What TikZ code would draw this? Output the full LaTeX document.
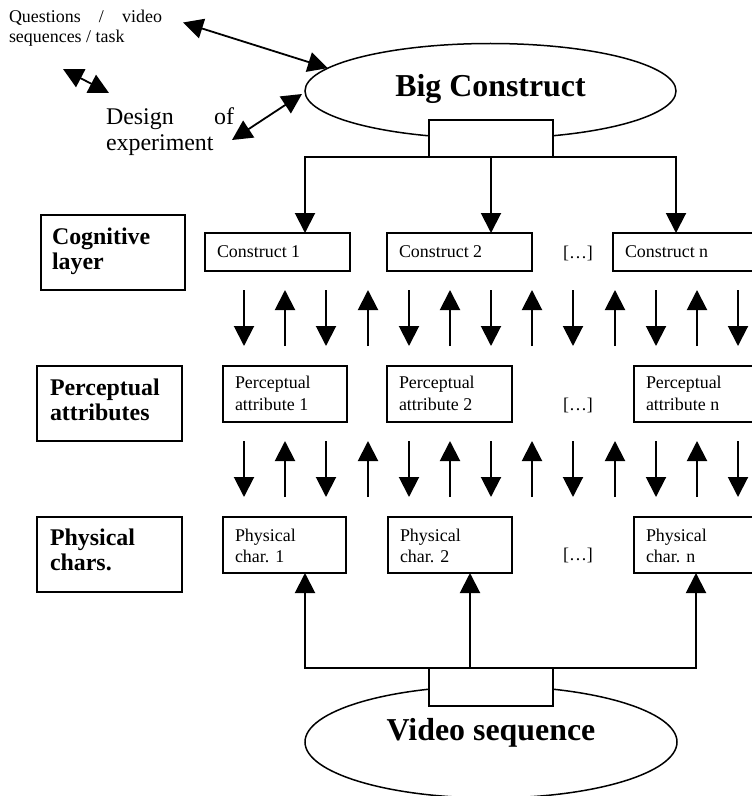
\documentclass[tikz,border=0pt]{standalone}
\usepackage{fontspec}
\setmainfont{Liberation Serif}
\usetikzlibrary{arrows.meta,shapes.geometric,calc}
\begin{document}
\begin{tikzpicture}[x=1bp,y=-1bp,
  every node/.style={inner sep=0pt, outer sep=0pt},
  box/.style={draw, line width=1.6bp, anchor=north west, inner ysep=0pt},
  fsmall/.style={font=\fontsize{18}{22}\selectfont},
  flabel/.style={font=\fontsize{24}{26}\selectfont\bfseries},
  oval/.style={draw, ellipse, line width=1.5bp, font=\fontsize{32}{38}\selectfont\bfseries},
  port/.style={draw, fill=white, line width=1.6bp, anchor=north west, minimum width=124bp},
  arr/.style={line width=2bp, -{Triangle[length=20bp,width=20bp]}},
  darr/.style={line width=1.8bp, {Triangle[length=20bp,width=20bp]}-{Triangle[length=20bp,width=20bp]}},
]
\clip (0,0) rectangle (752,796);

% top-left texts
\node[anchor=base west, font=\fontsize{18}{20}\selectfont] (qtext) at (9,23)
  {\parbox[t]{160bp}{\makebox[153bp][s]{Questions / video}\\sequences / task}};
\node[anchor=base west, font=\fontsize{24}{26.5}\selectfont] (design) at (106,124)
  {\parbox[t]{140bp}{\makebox[128bp][s]{Design of}\\experiment}};

% ellipses
\node[oval, minimum width=371bp, minimum height=95bp, text height=22bp, text depth=11bp] (bc) at (490.5,91) {Big Construct};
\node[oval, minimum width=372bp, minimum height=112bp, text height=22bp, text depth=26bp] (vs) at (491,742) {Video sequence};

% ports
\node[port, minimum height=37bp] (bcport) at (429,120) {};
\node[port, minimum height=38bp] (vport) at (429,668) {};

% layer labels
\node[box, flabel, inner xsep=11bp, text height=29bp, text depth=46bp] (cog) at (41,215) {\parbox[t]{122bp}{Cognitive\\layer}};
\node[box, flabel, inner xsep=13bp, text height=29bp, text depth=46bp] (perc) at (37,366) {\parbox[t]{119bp}{Perceptual\\attributes}};
\node[box, flabel, inner xsep=13bp, text height=28bp, text depth=47bp] (phys) at (37,517) {\parbox[t]{119bp}{Physical\\chars.}};

% construct row
\node[box, fsmall, inner xsep=12bp, text height=24bp, text depth=14bp] (c1) at (205,233) {\parbox[t]{121bp}{Construct 1}};
\node[box, fsmall, inner xsep=12bp, text height=24bp, text depth=14bp] (c2) at (387,233) {\parbox[t]{121bp}{Construct 2}};
\node[box, fsmall, inner xsep=12bp, text height=24bp, text depth=14bp] (cn) at (613,233) {\parbox[t]{121bp}{Construct n}};
\node[fsmall, anchor=base] (dots1) at (578,258) {[…]};

% perceptual row
\node[box, fsmall, inner xsep=12bp, text height=22.5bp, text depth=33.5bp] (pa1) at (223,366) {\parbox[t]{100bp}{Perceptual\\attribute 1}};
\node[box, fsmall, inner xsep=12bp, text height=22.5bp, text depth=33.5bp] (pa2) at (387,366) {\parbox[t]{101bp}{Perceptual\\attribute 2}};
\node[box, fsmall, inner xsep=12bp, text height=22.5bp, text depth=33.5bp] (pan) at (634,366) {\parbox[t]{101bp}{Perceptual\\attribute n}};
\node[fsmall, anchor=base] (dots2) at (578,410) {[…]};

% physical row
\node[box, fsmall, inner xsep=12bp, text height=24bp, text depth=32bp] (pc1) at (223,517) {\parbox[t]{99bp}{Physical\\char. 1}};
\node[box, fsmall, inner xsep=12bp, text height=24bp, text depth=32bp] (pc2) at (388,517) {\parbox[t]{100bp}{Physical\\char. 2}};
\node[box, fsmall, inner xsep=12bp, text height=24bp, text depth=32bp] (pcn) at (634,517) {\parbox[t]{100bp}{Physical\\char. n}};
\node[fsmall, anchor=base] (dots3) at (578,560) {[…]};

% Big construct to constructs
\draw[arr] (bcport.south west) -| ($(c1.north west)+(100,0)$);
\draw[arr] (bcport.south) -- (bcport.south |- c2.north);
\draw[arr] (bcport.south east) -| ($(cn.north west)+(63,0)$);

% video sequence to physical chars
\draw[arr] (vport.north west) -| ($(pc1.south west)+(82,0)$);
\draw[arr] ($(vport.north west)+(41,0)$) -- ($(pc2.south west)+(82,0)$);
\draw[arr] (vport.north east) -| ($(pcn.south west)+(62,0)$);

% top-left double arrows
\coordinate (qa) at (183,22.5);
\coordinate (sa) at (63,69);
\coordinate (sb) at (109,93);
\coordinate (da) at (232,140);
\draw[darr] (qa) -- (bc.172.9);
\draw[darr] (sa) -- (sb);
\draw[darr] (da) -- ($(bc.west)+(-3,3)$);

% alternating vertical arrows
\foreach \i in {0,...,12}{
  \pgfmathsetmacro{\xx}{round(244+41.17*\i)}
  \ifodd\i
    \draw[arr] (\xx,346) -- (\xx,290);
    \draw[arr] (\xx,497) -- (\xx,441);
  \else
    \draw[arr] (\xx,290) -- (\xx,346);
    \draw[arr] (\xx,441) -- (\xx,497);
  \fi
}
\end{tikzpicture}
\end{document}
